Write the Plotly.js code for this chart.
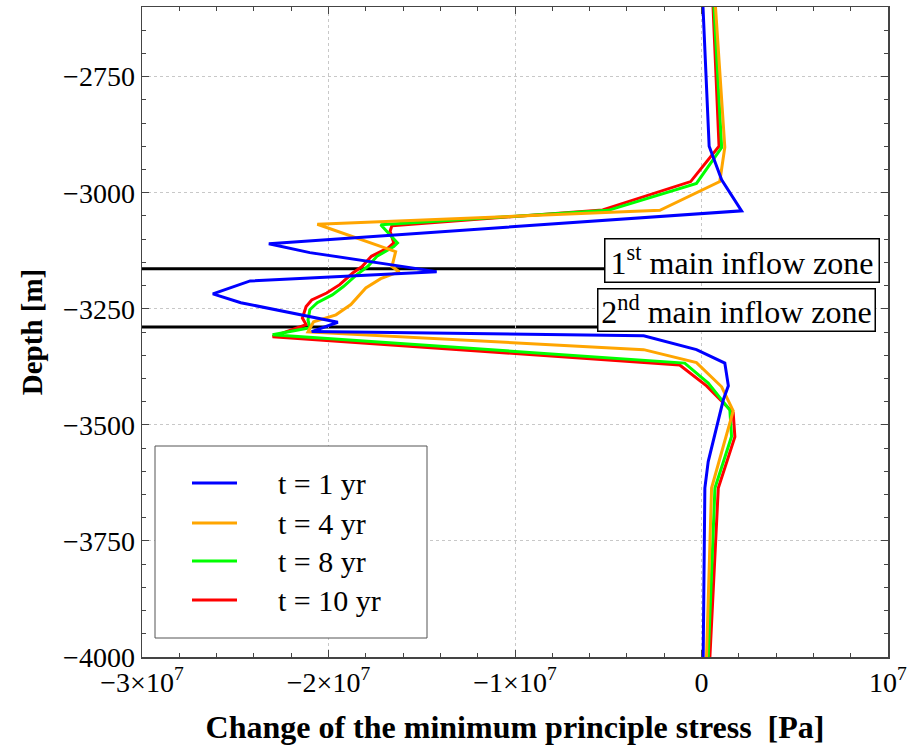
<!DOCTYPE html>
<html><head><meta charset="utf-8">
<script src="https://cdn.plot.ly/plotly-3.0.1.min.js"></script>
<style>html,body{margin:0;padding:0;background:#fff}#chart{width:909px;height:746px}</style>
</head><body><div id="chart"></div>
<script>
const seriesNames = ['t = 1 yr', 't = 4 yr', 't = 8 yr', 't = 10 yr'];
const seriesColors = ['#0000ff', '#ffa500', '#00ff00', '#ff0000'];

const depthT1 = [-2600, -2900, -2972, -3039, -3110, -3129, -3170, -3190, -3218, -3237, -3279, -3299, -3308, -3338, -3367, -3416, -3446, -3579, -3636, -4000];
const stressT1 = [0.08e6, 0.41e6, 1.08e6, 2.15e6, -23.2e6, -21.0e6, -14.2e6, -24.2e6, -26.2e6, -24.7e6, -19.5e6, -20.9e6, -3.1e6, -0.27e6, 1.25e6, 1.44e6, 1.17e6, 0.36e6, 0.18e6, 0.09e6];

const depthT4 = [-2600, -2902, -2976, -3038, -3068, -3127, -3159, -3170, -3185, -3205, -3241, -3263, -3278, -3300, -3338, -3366, -3418, -3470, -3636, -4000];
const stressT4 = [0.75e6, 1.25e6, 0.98e6, -2.23e6, -20.6e6, -16.4e6, -16.6e6, -16.2e6, -17.2e6, -18.0e6, -18.8e6, -19.6e6, -20.8e6, -21.1e6, -3.1e6, -0.27e6, 1.08e6, 1.70e6, 0.54e6, 0.27e6];

const depthT8 = [-2600, -2903, -2980, -3038, -3069, -3108, -3116, -3137, -3159, -3177, -3202, -3220, -3237, -3252, -3274, -3291, -3306, -3367, -3410, -3468, -3525, -3636, -4000];
const stressT8 = [0.67e6, 1.08e6, -0.27e6, -5.0e6, -17.2e6, -16.3e6, -16.5e6, -17.4e6, -17.9e6, -18.5e6, -19.2e6, -19.8e6, -20.6e6, -21.0e6, -21.1e6, -21.0e6, -23.0e6, -0.9e6, 0.36e6, 1.52e6, 1.61e6, 0.72e6, 0.36e6];

const depthT10 = [-2600, -2900, -2976, -3037, -3071, -3083, -3108, -3119, -3137, -3159, -3173, -3198, -3216, -3231, -3245, -3270, -3284, -3310, -3371, -3416, -3474, -3526, -3636, -4000];
const stressT10 = [0.62e6, 0.94e6, -0.58e6, -5.3e6, -16.6e6, -16.7e6, -16.5e6, -16.8e6, -17.7e6, -18.2e6, -18.7e6, -19.4e6, -20.1e6, -20.9e6, -21.2e6, -21.4e6, -21.2e6, -23.0e6, -1.17e6, 0.27e6, 1.70e6, 1.79e6, 0.9e6, 0.45e6];

const xTickVals = [-3e7, -2e7, -1e7, 0, 1e7];
const xTickText = ['\u22123\u00d710<sup>7</sup>', '\u22122\u00d710<sup>7</sup>', '\u22121\u00d710<sup>7</sup>', '0', '10<sup>7</sup>'];
const yTickVals = [-4000, -3750, -3500, -3250, -3000, -2750];
const yTickText = ['\u22124000', '\u22123750', '\u22123500', '\u22123250', '\u22123000', '\u22122750'];

const zoneDepths = [-3164, -3289];
const zoneLabels = ['1<sup>st</sup> main inflow zone', '2<sup>nd</sup> main inflow zone'];

const serif = 'Liberation Serif';
const depths = [depthT1, depthT4, depthT8, depthT10];
const stresses = [stressT1, stressT4, stressT8, stressT10];

// draw order: red, green, orange, blue (blue on top)
const order = [3, 2, 1, 0];
const traces = order.map(i => ({
  type: 'scatter', mode: 'lines',
  x: stresses[i], y: depths[i], name: seriesNames[i],
  line: {color: seriesColors[i], width: 3},
  showlegend: false
}));

// plot area geometry (px) for paper mapping
const L = 142, R = 888, T = 7, B = 657;
const px = x => (x - L) / (R - L);
const py = y => (B - y) / (B - T);

const shapes = [];
const annotations = [];

// zone boxes
const zoneBoxes = [
  {left: 604, right: 879, top: 238, bottom: 282},
  {left: 597, right: 875, top: 288, bottom: 331}
];
zoneDepths.forEach((d, k) => {
  const b = zoneBoxes[k];
  const xLeftData = -3e7 + (b.left - L) / (R - L) * 4e7;
  shapes.push({type: 'line', xref: 'x', yref: 'y', x0: -3e7, x1: xLeftData, y0: d, y1: d,
    line: {color: '#000', width: 3}, layer: 'below'});
  annotations.push({xref: 'paper', yref: 'paper', x: px((b.left + b.right) / 2), y: py((b.top + b.bottom) / 2),
    xanchor: 'center', yanchor: 'middle', showarrow: false, text: zoneLabels[k],
    width: b.right - b.left - 6, height: b.bottom - b.top - 6, borderpad: 2,
    bordercolor: '#000', borderwidth: 1.5, bgcolor: '#fff',
    font: {family: serif, size: 32, color: '#000'}});
});

// legend box
shapes.push({type: 'rect', xref: 'paper', yref: 'paper', x0: px(155), x1: px(427), y0: py(638), y1: py(446),
  line: {color: '#555', width: 1}, fillcolor: '#fff', layer: 'above'});
const legRows = [483, 523, 561, 600];
seriesNames.forEach((n, i) => {
  shapes.push({type: 'line', xref: 'paper', yref: 'paper', x0: px(192), x1: px(237), y0: py(legRows[i]), y1: py(legRows[i]),
    line: {color: seriesColors[i], width: 3}, layer: 'above'});
  annotations.push({xref: 'paper', yref: 'paper', x: px(276), y: py(legRows[i]), xanchor: 'left', yanchor: 'middle',
    showarrow: false, text: n, font: {family: serif, size: 30, color: '#000'}});
});

const axisCommon = {
  showline: true, linecolor: '#444', linewidth: 1.5, mirror: 'allticks',
  ticks: 'inside', ticklen: 7, tickwidth: 1, tickcolor: '#444',
  showgrid: true, gridcolor: '#c8c8c8', griddash: 'dot', gridwidth: 1,
  zeroline: false, tickfont: {family: serif, size: 28, color: '#000'},
  tickmode: 'array', automargin: false
};

const layout = {
  width: 909, height: 746,
  margin: {l: L, r: 909 - R, t: T, b: 746 - B},
  paper_bgcolor: '#fff', plot_bgcolor: '#fff',
  showlegend: false,
  xaxis: Object.assign({}, axisCommon, {
    range: [-3e7, 1e7], tickvals: xTickVals, ticktext: xTickText,
    minor: {tickmode: 'linear', tick0: 0, dtick: 2e6, ticks: 'inside', ticklen: 4, tickcolor: '#444', showgrid: false},
    title: {text: 'Change of the minimum principle stress  [Pa]', standoff: 18,
      font: {family: serif, size: 32, color: '#000', weight: 'bold'}}
  }),
  yaxis: Object.assign({}, axisCommon, {
    range: [-4000, -2600], tickvals: yTickVals, ticktext: yTickText,
    minor: {tickmode: 'linear', tick0: -4000, dtick: 50, ticks: 'inside', ticklen: 4, tickcolor: '#444', showgrid: false},
    title: {text: 'Depth [m]', standoff: 12,
      font: {family: serif, size: 29, color: '#000', weight: 'bold'}}
  }),
  shapes: shapes,
  annotations: annotations
};

Plotly.newPlot('chart', traces, layout, {displayModeBar: false, staticPlot: true});
</script>
</body></html>
